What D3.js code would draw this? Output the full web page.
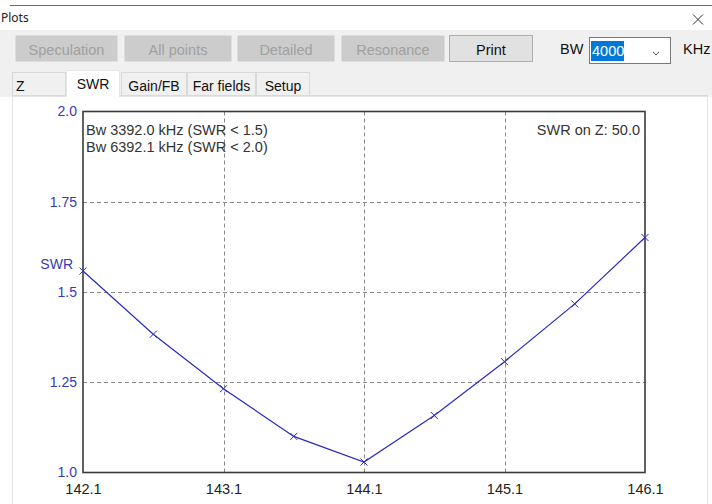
<!DOCTYPE html>
<html>
<head>
<meta charset="utf-8">
<script src="https://cdn.jsdelivr.net/npm/d3@7"></script>
<style>
html,body{margin:0;padding:0;background:#fff;overflow:hidden;}
svg{display:block;}
</style>
</head>
<body>
<svg id="c" width="712" height="504"></svg>
<script>
// ---- data ----
const freqs = [142.1, 142.6, 143.1, 143.6, 144.1, 144.6, 145.1, 145.6, 146.1];
const swr   = [1.558, 1.383, 1.232, 1.100, 1.029, 1.158, 1.307, 1.467, 1.651];
const xTicks = [142.1, 143.1, 144.1, 145.1, 146.1];
const xTickLabels = ["142.1", "143.1", "144.1", "145.1", "146.1"];
const yTicks = [1.0, 1.25, 1.5, 1.75, 2.0];
const yTickLabels = ["1.0", "1.25", "1.5", "1.75", "2.0"];
const notesLeft = ["Bw 3392.0 kHz (SWR < 1.5)", "Bw 6392.1 kHz (SWR < 2.0)"];
const noteRight = "SWR on Z: 50.0";
const buttons = ["Speculation", "All points", "Detailed", "Resonance", "Print"];
const tabs = ["Z", "SWR", "Gain/FB", "Far fields", "Setup"];

const svg = d3.select("#c");
const UI = "'Liberation Sans', Arial, sans-serif";

// ---- window chrome ----
svg.append("rect").attr("x",0).attr("y",0).attr("width",712).attr("height",504).attr("fill","#ffffff");
svg.append("rect").attr("x",0).attr("y",30).attr("width",712).attr("height",67).attr("fill","#f0f0f0");
svg.append("line").attr("x1",10).attr("x2",712).attr("y1",5.5).attr("y2",5.5).attr("stroke","#6a6a6a").attr("stroke-width",1);
svg.append("text").attr("x",1).attr("y",22).text("Plots")
  .attr("font-family","'Noto Sans', 'Open Sans', sans-serif").attr("font-size",12).attr("fill","#222");
// close X
svg.append("path").attr("d","M693,14.5 L703,24.5 M703,14.5 L693,24.5").attr("stroke","#333").attr("stroke-width",1).attr("fill","none");

// buttons
const btnX = [[15,118],[124,232],[237,335],[341,445],[449,533]];
buttons.forEach((b,i)=>{
  const enabled = b === "Print";
  const [x0,x1] = btnX[i];
  svg.append("rect").attr("x",x0+0.5).attr("y",35.5).attr("width",x1-x0-1).attr("height",26)
    .attr("fill", enabled ? "#e1e1e1" : "#cccccc")
    .attr("stroke", enabled ? "#adadad" : "none");
  svg.append("text").attr("x",(x0+x1)/2).attr("y",55).attr("text-anchor","middle")
    .attr("font-family",UI).attr("font-size",14.5)
    .attr("fill", enabled ? "#111" : "#a0a0a0").text(b);
});
// BW combo
svg.append("text").attr("x",560).attr("y",53.5).attr("font-family",UI).attr("font-size",14.5).attr("fill","#111").text("BW");
svg.append("rect").attr("x",589.5).attr("y",37.5).attr("width",81).attr("height",26).attr("fill","#fff").attr("stroke","#7a7a7a");
svg.append("rect").attr("x",591).attr("y",41).attr("width",33).attr("height",20).attr("fill","#0078d7");
svg.append("text").attr("x",592).attr("y",56).attr("font-family",UI).attr("font-size",14.5).attr("fill","#fff").text("4000");
svg.append("path").attr("d","M653,52 L656,55 L659,52").attr("stroke","#555").attr("fill","none").attr("stroke-width",1);
svg.append("text").attr("x",683).attr("y",53.5).attr("font-family",UI).attr("font-size",14.5).attr("fill","#111").text("KHz");

// tabs
const tabX = [[12,66],[66,120],[121,187],[187,256],[256,310]];
svg.append("line").attr("x1",12).attr("x2",708).attr("y1",95.5).attr("y2",95.5).attr("stroke","#d9d9d9");
tabs.forEach((t,i)=>{
  const [x0,x1] = tabX[i];
  const active = t === "SWR";
  if (active) {
    svg.append("rect").attr("x",x0).attr("y",70).attr("width",x1-x0).attr("height",28).attr("fill","#fff");
    svg.append("path").attr("d",`M${x0+0.5},97 V70.5 H${x1-0.5} V97`).attr("stroke","#e6e6e6").attr("fill","none");
  } else {
    svg.append("rect").attr("x",x0+0.5).attr("y",72.5).attr("width",x1-x0-1).attr("height",23).attr("fill","#f0f0f0").attr("stroke","#d9d9d9");
  }
  svg.append("text").attr("x", t==="Z" ? 16 : (x0+x1)/2).attr("y", active ? 88.5 : 90.5)
    .attr("text-anchor", t==="Z" ? "start" : "middle")
    .attr("font-family",UI).attr("font-size",14).attr("fill","#111").text(t);
});
// content panel
svg.append("rect").attr("x",12.5).attr("y",96.5).attr("width",695).attr("height",420).attr("fill","#fff").attr("stroke","#e3e3e3");
svg.append("rect").attr("x",67).attr("y",94).attr("width",52).attr("height",4).attr("fill","#fff");

// ---- plot ----
const x = d3.scaleLinear().domain([142.1,146.1]).range([83,645]);
const y = d3.scaleLinear().domain([1,2]).range([472.5,111.5]);
const blue = "#2a2ac4";
const g = svg.append("g");

// grid
g.selectAll(".vg").data(xTicks.slice(1,-1)).enter().append("line")
  .attr("x1",d=>Math.round(x(d))+0.5).attr("x2",d=>Math.round(x(d))+0.5)
  .attr("y1",y(2)).attr("y2",y(1))
  .attr("stroke","#8a8a8a").attr("stroke-dasharray","4,3");
g.selectAll(".hg").data(yTicks.slice(1,-1)).enter().append("line")
  .attr("y1",d=>Math.round(y(d))+0.5).attr("y2",d=>Math.round(y(d))+0.5)
  .attr("x1",x(142.1)).attr("x2",x(146.1))
  .attr("stroke","#8a8a8a").attr("stroke-dasharray","4,3");

// frame
g.append("rect").attr("x",x(142.1)).attr("y",y(2)).attr("width",x(146.1)-x(142.1)).attr("height",y(1)-y(2))
  .attr("fill","none").attr("stroke","#3a3a3a").attr("stroke-width",1.6);

// axes tick labels via d3 axes (no lines)
const xAxis = d3.axisBottom(x).tickValues(xTicks).tickFormat((d,i)=>xTickLabels[i]).tickSize(0).tickPadding(0);
const xa = g.append("g").attr("transform","translate(0,484)").call(xAxis);
xa.select(".domain").remove();
xa.selectAll("text").attr("font-family",UI).attr("font-size",14.5).attr("fill","#222").attr("dy","0.71em");

const yAxis = d3.axisLeft(y).tickValues(yTicks).tickFormat((d,i)=>yTickLabels[i]).tickSize(0).tickPadding(0);
const ya = g.append("g").attr("transform","translate(77,0)").call(yAxis);
ya.select(".domain").remove();
ya.selectAll("text").attr("font-family",UI).attr("font-size",14).attr("fill","#3a3ab4");

g.append("text").attr("x",73).attr("y",269).attr("text-anchor","end")
  .attr("font-family",UI).attr("font-size",14).attr("fill","#3a3ab4").text("SWR");

// curve
const line = d3.line().x((d,i)=>x(freqs[i])).y(d=>y(d));
g.append("path").datum(swr).attr("d",line).attr("fill","none").attr("stroke",blue).attr("stroke-width",1.2);
// markers
const s = 3.5;
g.selectAll(".mk").data(swr).enter().append("path")
  .attr("d",(d,i)=>{const cx=x(freqs[i]), cy=y(d); return `M${cx-s},${cy-s}L${cx+s},${cy+s}M${cx+s},${cy-s}L${cx-s},${cy+s}`;})
  .attr("stroke",blue).attr("stroke-width",1);

// annotations
notesLeft.forEach((t,i)=>{
  g.append("text").attr("x",86).attr("y",134.5+i*17.5).attr("font-family",UI).attr("font-size",14.5).attr("fill","#333").text(t);
});
g.append("text").attr("x",640).attr("y",134.5).attr("text-anchor","end").attr("font-family",UI).attr("font-size",14.5).attr("fill","#333").text(noteRight);
</script>
</body>
</html>
